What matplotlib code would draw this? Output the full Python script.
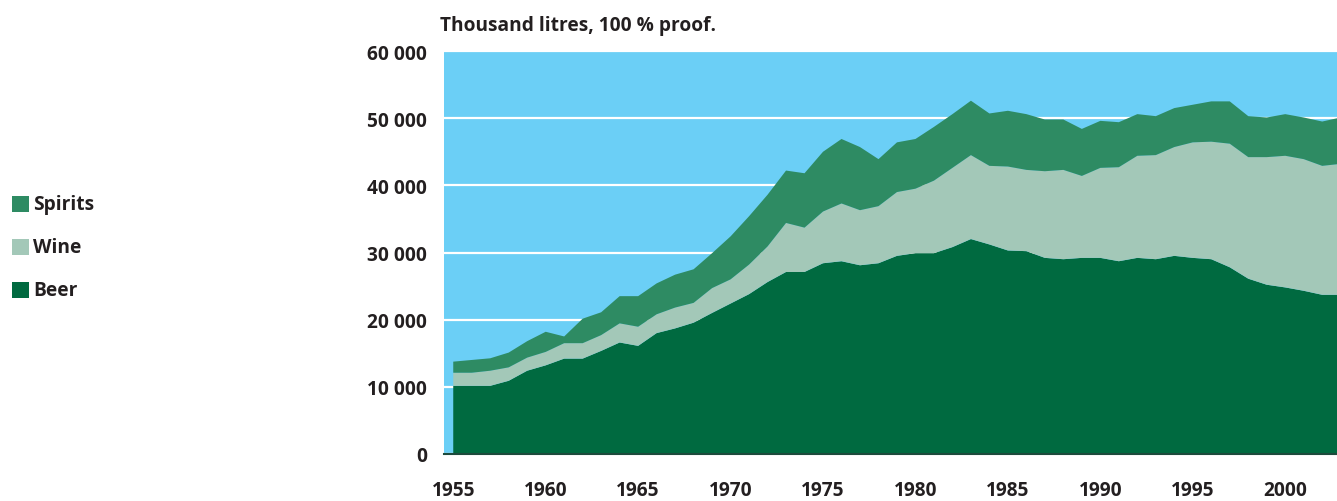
import matplotlib
matplotlib.use("Agg")
import matplotlib.pyplot as plt
from matplotlib.patches import Rectangle

# Alcohol sales, thousand litres at 100 % proof, stacked by kind.
years = list(range(1955, 2004))
beer = [10150, 10150, 10150, 10900, 12400, 13200, 14200, 14200, 15350, 16600,
        16100, 18000, 18700, 19550, 21000, 22400, 23800, 25600, 27100, 27100,
        28400, 28700, 28100, 28400, 29500, 29900, 29900, 30800, 32000, 31200,
        30300, 30200, 29200, 29000, 29200, 29200, 28700, 29200, 29000, 29500,
        29200, 29000, 27800, 26100, 25200, 24800, 24300, 23700, 23700]
wine = [1950, 1950, 2250, 2000, 1950, 2000, 2300, 2300, 2350, 2850,
        2850, 2800, 3100, 2950, 3700, 3600, 4400, 5300, 7300, 6600,
        7700, 8600, 8200, 8500, 9500, 9600, 10800, 11800, 12500, 11700,
        12500, 12100, 12900, 13300, 12200, 13400, 14000, 15200, 15500, 16200,
        17200, 17500, 18400, 18100, 19000, 19600, 19600, 19200, 19500]
spirits = [1650, 1900, 1850, 2200, 2450, 3000, 1000, 3650, 3400, 4050,
           4550, 4600, 4900, 5000, 5200, 6400, 7200, 7700, 7800, 8100,
           8900, 9600, 9400, 7000, 7400, 7400, 8000, 8000, 8100, 7800,
           8300, 8300, 7700, 7500, 7000, 7000, 6700, 6200, 5800, 5800,
           5600, 6000, 6300, 6100, 5900, 6200, 6200, 6600, 6900]
series_names = ["Spirits", "Wine", "Beer"]
x_ticks = [1955, 1960, 1965, 1970, 1975, 1980, 1985, 1990, 1995, 2000]
y_ticks = [0, 10000, 20000, 30000, 40000, 50000, 60000]

BG = "#6bcff6"
COLORS = {"Beer": "#006a40", "Wine": "#a3c8b8", "Spirits": "#2e8b63"}
TEXT = "#231f20"

plt.rcParams["font.family"] = ["Open Sans", "DejaVu Sans"]
plt.rcParams["font.weight"] = "bold"
plt.rcParams["font.size"] = 13.8

W, H = 1337, 502
fig = plt.figure(figsize=(W / 100, H / 100), dpi=100)
ax = fig.add_axes([444 / W, 1 - 455 / H, (W - 444) / W, (455 - 52) / H])

ax.stackplot(years, beer, wine, spirits,
             colors=[COLORS["Beer"], COLORS["Wine"], COLORS["Spirits"]],
             linewidth=0)
ax.set_facecolor(BG)
ax.set_xlim(1954.5, 2002.8)
ax.set_ylim(0, 60000)

ax.set_yticks(y_ticks)
ax.set_yticklabels([f"{v:,}".replace(",", " ") for v in y_ticks])
ax.set_xticks(x_ticks)
ax.set_xticklabels([str(y) for y in x_ticks])
ax.tick_params(axis="y", length=0, pad=12, labelcolor=TEXT)
ax.tick_params(axis="x", length=0, pad=18.5, labelcolor=TEXT)

ax.yaxis.grid(True, color="white", linewidth=1.6)
ax.set_axisbelow(True)
for side in ("top", "right", "left"):
    ax.spines[side].set_visible(False)
ax.spines["bottom"].set_color("#1d4a3c")
ax.spines["bottom"].set_linewidth(1.5)

fig.text(440 / W, 1 - 26 / H, "Thousand litres, 100 % proof.",
         ha="left", va="center", color=TEXT)

# hand-placed legend on the far left
legend_rows = [205, 248, 291]
for name, yc in zip(series_names, legend_rows):
    fig.add_artist(Rectangle((12 / W, 1 - (yc + 8) / H), 17 / W, 16 / H,
                             transform=fig.transFigure,
                             facecolor=COLORS[name], edgecolor="none"))
    fig.text(33 / W, 1 - yc / H, name, ha="left", va="center", color=TEXT)

fig.savefig("out.png", dpi=100)
